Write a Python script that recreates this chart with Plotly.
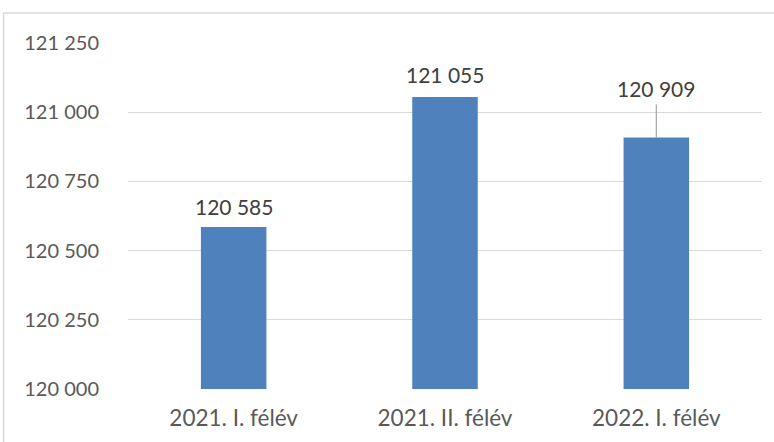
import plotly.graph_objects as go

categories = ["2021. I. félév", "2021. II. félév", "2022. I. félév"]
values = [120585, 121055, 120909]
label_offsets_px = [21, 22, 49]   # vertical distance of label centre above bar top
leader_line = [False, False, True]
y_ticks = [120000, 120250, 120500, 120750, 121000, 121250]

label_color = "#404040"
tick_color = "#595959"
grid_color = "#D9D9D9"
bar_color = "#4F81BD"
font_family = "Lato, 'Open Sans', sans-serif"

fig = go.Figure()
fig.add_trace(go.Bar(
    x=categories, y=values, marker=dict(color=bar_color, line=dict(width=0)),
    hoverinfo="skip", showlegend=False,
))

for cat, val, off, lead in zip(categories, values, label_offsets_px, leader_line):
    txt = f"{val:,}".replace(",", " ")
    if lead:
        fig.add_annotation(x=cat, y=val, text=txt, showarrow=True, arrowhead=0,
                           arrowwidth=1.2, arrowcolor="#A6A6A6", ax=0, ay=-off,
                           standoff=0, borderpad=3,
                           font=dict(size=21, color=label_color, family=font_family))
    else:
        fig.add_annotation(x=cat, y=val, text=txt, showarrow=False, yshift=off,
                           font=dict(size=21, color=label_color, family=font_family))

# outer chart border
fig.add_shape(type="rect", xref="paper", yref="paper",
              x0=(6 - 130) / 632, x1=1.2, y0=-0.5, y1=(389 - 13) / 346,
              line=dict(color=grid_color, width=1.5), fillcolor="rgba(0,0,0,0)")

fig.update_layout(
    width=774, height=442,
    margin=dict(l=128, r=12, t=43, b=53),
    paper_bgcolor="white", plot_bgcolor="white",
    bargap=0.69,
    separators=", ",
    font=dict(family=font_family, color=tick_color, size=20),
)
fig.update_xaxes(showgrid=False, showline=False, ticks="outside", ticklen=9,
                 automargin=False,
                 tickcolor="rgba(0,0,0,0)", tickfont=dict(size=22.5, color=tick_color))
fig.update_yaxes(range=[120000, 121250], tickvals=y_ticks, tickformat=",d",
                 automargin=False,
                 showgrid=True, gridcolor=grid_color, gridwidth=1.3,
                 zeroline=False, showline=False, ticks="outside", ticklen=24,
                 tickcolor="rgba(0,0,0,0)", tickfont=dict(size=20, color=tick_color))

fig.write_html("out.html", config={"displayModeBar": False},
               post_script="document.body.style.margin='0';")
